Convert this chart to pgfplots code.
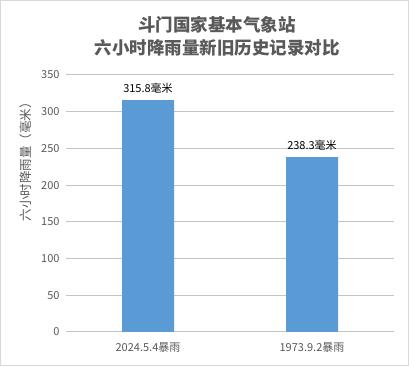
\documentclass[border=0pt]{standalone}
\usepackage{pgfplots}
\pgfplotsset{compat=1.18}
\usepackage{fontspec}
\setmainfont{Noto Sans CJK SC}
\definecolor{barblue}{HTML}{5B9BD5}
\definecolor{txtgray}{HTML}{595959}
\definecolor{gridgray}{HTML}{D9D9D9}
\definecolor{gridline}{HTML}{C4C4C4}
\begin{document}
\begin{tikzpicture}
\draw[draw=gridgray,line width=1pt,fill=white] (0.5pt,0.5pt) rectangle (408.5pt,365.5pt);
\node[text=txtgray,font=\fontsize{17.5}{23}\selectfont\bfseries,align=center] at (217pt,330pt) {斗门国家基本气象站\\六小时降雨量新旧历史记录对比};
\node[text=txtgray,font=\fontsize{12.5}{14}\selectfont,rotate=90] at (26pt,207pt) {六小时降雨量（毫米）};
\begin{axis}[
  at={(66pt,34pt)}, anchor=south west,
  scale only axis, width=328pt, height=257pt,
  xmin=-0.5, xmax=1.5, ymin=0, ymax=350,
  ytick={0,50,...,350},
  xtick={0,1}, xticklabels={2024.5.4暴雨,1973.9.2暴雨},
  ybar, bar width=52pt,
  ymajorgrids=true, major grid style={draw=gridline,line width=1pt},
  axis x line*=bottom, axis y line*=left,
  x axis line style={draw=gridline,line width=1pt,-},
  y axis line style={draw=none},
  tick style={draw=none},
  tick label style={text=txtgray,font=\fontsize{11}{13}\selectfont},
  /pgf/number format/assume math mode=true,
  yticklabel style={xshift=-3pt},
  xticklabel style={yshift=-3pt},
  nodes near coords={\pgfmathprintnumber[fixed,precision=1,fixed zerofill]{\pgfplotspointmeta}毫米},
  nodes near coords style={text=black,font=\fontsize{11}{13}\selectfont,yshift=3pt},
]
\addplot[fill=barblue,draw=none] coordinates {(0,315.8) (1,238.3)};
\end{axis}
\end{tikzpicture}
\end{document}
